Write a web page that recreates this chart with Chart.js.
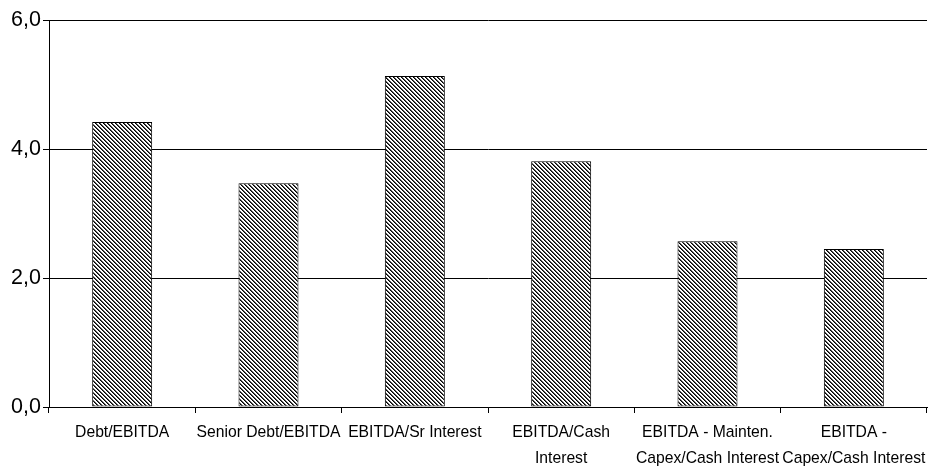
<!DOCTYPE html>
<html>
<head>
<meta charset="utf-8">
<script src="https://cdn.jsdelivr.net/npm/chart.js@4.4.1/dist/chart.umd.min.js"></script>
<style>
  html, body { margin: 0; padding: 0; background: #fff; }
  #wrap { width: 951px; height: 468px; }
</style>
</head>
<body>
<div id="wrap"><canvas id="chart"></canvas></div>
<script>
const categories = [
    "Debt/EBITDA",
    "Senior Debt/EBITDA",
    "EBITDA/Sr Interest",
    ["EBITDA/Cash", "Interest"],
    ["EBITDA - Mainten.", "Capex/Cash Interest"],
    ["EBITDA -", "Capex/Cash Interest"]
];
const ratios = [4.42, 3.47, 5.13, 3.81, 2.57, 2.45];
const yTicks = [0, 2, 4, 6];

// diagonal hatch like the old excel fill
function makeHatch() {
    const c = document.createElement("canvas");
    c.width = 4;
    c.height = 4;
    const ctx = c.getContext("2d");
    ctx.fillStyle = "#fff";
    ctx.fillRect(0, 0, 4, 4);
    for (let i = 0; i < 4; i++) {
        ctx.fillStyle = "#000";
        ctx.fillRect(i, i, 1, 1);
        ctx.fillStyle = "#555";
        ctx.fillRect((i + 1) % 4, i, 1, 1);
    }
    return ctx.createPattern(c, "repeat");
}

Chart.defaults.font.family = "'Liberation Sans', Arial, sans-serif";
Chart.defaults.color = "#000";

new Chart(document.getElementById("chart"), {
    type: "bar",
    data: {
        labels: categories,
        datasets: [{
            data: ratios,
            backgroundColor: makeHatch(),
            borderColor: "#000",
            borderWidth: 1,
            borderSkipped: false,
            barPercentage: 0.41,
            categoryPercentage: 1
        }]
    },
    options: {
        responsive: true,
        maintainAspectRatio: false,
        animation: false,
        layout: { padding: { top: 20, right: 24, left: 0, bottom: 0 } },
        plugins: {
            legend: { display: false },
            tooltip: { enabled: false }
        },
        scales: {
            x: {
                afterFit: axis => { axis.height = 61; },
                grid: {
                    offset: true,
                    drawOnChartArea: false,
                    drawTicks: true,
                    tickLength: 6,
                    color: "#000"
                },
                border: { color: "#000", width: 1 },
                ticks: {
                    maxRotation: 0,
                    autoSkip: false,
                    padding: 7,
                    font: { size: 15.7, lineHeight: 1.66 }
                }
            },
            y: {
                min: 0,
                max: 6,
                afterFit: axis => { axis.width = 49; },
                afterBuildTicks: axis => {
                    axis.ticks = yTicks.map(v => ({ value: v }));
                },
                grid: {
                    color: "#000",
                    lineWidth: 1,
                    tickLength: 6
                },
                border: { color: "#000", width: 1 },
                ticks: {
                    padding: 2,
                    font: { size: 21.5 },
                    callback: v => v.toFixed(1).replace(".", ",")
                }
            }
        }
    }
});
</script>
</body>
</html>
